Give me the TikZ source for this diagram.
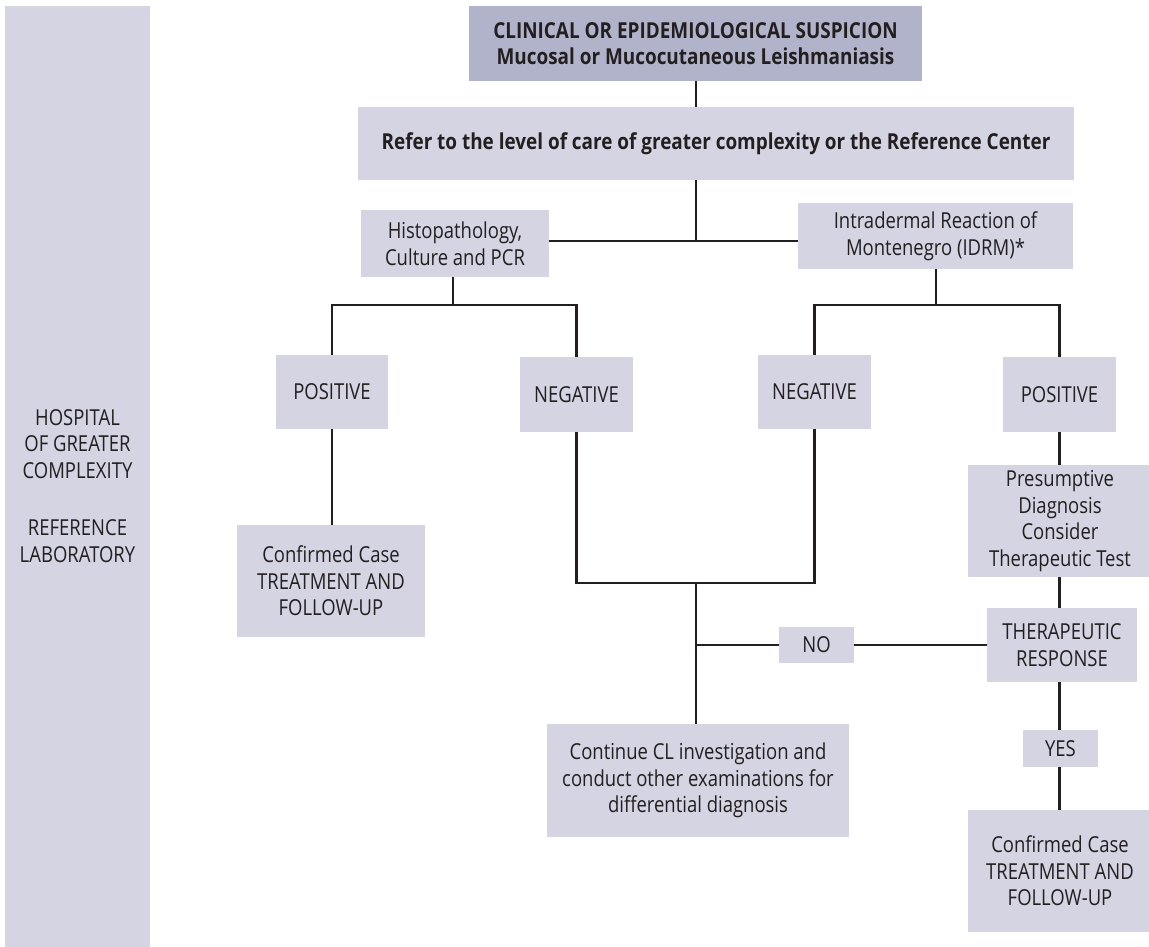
\documentclass[tikz,border=0pt]{standalone}
\usepackage{fontspec}
\setmainfont[FakeStretch=0.84, BoldFeatures={FakeStretch=0.86}]{Open Sans}
\definecolor{boxfill}{HTML}{D4D4E2}
\definecolor{headfill}{HTML}{B1B3CB}
\definecolor{ink}{HTML}{231F20}
\tikzset{
  flowbox/.style={fill=boxfill, inner sep=0pt, align=center, text=ink,
    font=\fontsize{22}{26.5}\selectfont},
  headbox/.style={flowbox, fill=headfill, font=\fontsize{22}{26.5}\selectfont\bfseries},
  link/.style={draw=ink, line width=2.3pt},
}
\newcommand{\bx}[6]{% name, x1, x2, y1, y2, style
  \node[#6, minimum width={#3-#2}, minimum height={#5-#4}]
    (#1) at ({(#2+#3)/2},{(#4+#5)/2})}
\begin{document}
\begin{tikzpicture}[x=1pt, y=-1pt]
\useasboundingbox (0,0) rectangle (1149,947);

% side band with the level of care
\bx{band}{5}{150}{6}{947}{flowbox}{};
\node[text=ink, align=center, font=\fontsize{22}{26.5}\selectfont] (bandlabel) at (77.5,486)
  {HOSPITAL\\OF GREATER\\COMPLEXITY\\[31pt]REFERENCE\\LABORATORY};

% boxes
\bx{top}{469}{922}{6}{81}{headbox}{CLINICAL OR EPIDEMIOLOGICAL SUSPICION\\Mucosal or Mucocutaneous Leishmaniasis};
\bx{refer}{358}{1074}{107}{180}{flowbox, font=\fontsize{22}{26.5}\selectfont\bfseries}{Refer to the level of care of greater complexity or the Reference Center};
\bx{histo}{361}{549}{210}{277}{flowbox}{Histopathology,\\Culture and PCR};
\bx{idrm}{798}{1073}{203}{269}{flowbox}{Intradermal Reaction of\\Montenegro (IDRM)*};
\bx{posL}{276}{388}{355}{429}{flowbox}{POSITIVE};
\bx{negL}{520}{633}{357}{432}{flowbox}{NEGATIVE};
\bx{negR}{758}{871}{355}{429}{flowbox}{NEGATIVE};
\bx{posR}{1003}{1116}{357}{432}{flowbox}{POSITIVE};
\bx{confL}{237}{425}{525}{637}{flowbox}{Confirmed Case\\TREATMENT AND\\FOLLOW-UP};
\bx{presum}{968}{1152}{465}{577}{flowbox}{Presumptive\\Diagnosis\\Consider\\Therapeutic Test};
\bx{resp}{987}{1137}{608}{682}{flowbox}{THERAPEUTIC\\RESPONSE};
\bx{no}{779}{854}{627}{663}{flowbox}{NO};
\bx{yes}{1023}{1098}{730}{767}{flowbox}{YES};
\bx{cont}{547}{849}{724}{837}{flowbox}{Continue CL investigation and\\conduct other examinations for\\differential diagnosis};
\bx{confR}{968}{1152}{810}{932}{flowbox}{Confirmed Case\\TREATMENT AND\\FOLLOW-UP};

% junction points
\coordinate (j1) at (696,241);
\coordinate (hb) at (453,305);
\coordinate (ib) at (936,305);
\coordinate (mb) at (696,583);
\coordinate (nj) at (696,645);

% connectors
\draw[link] (top.south -| j1) -- (refer.north -| j1);
\draw[link] (refer.south -| j1) -- (j1);
\draw[link] (histo.east |- j1) -- (idrm.west |- j1);
\draw[link] (hb |- histo.south) -- (hb);
\draw[link] (posL.north) |- (hb) -| (negL.north);
\draw[link] (ib |- idrm.south) -- (ib);
\draw[link] (negR.north) |- (ib) -| (posR.north);
\draw[link] (posL.south) -- (posL.south |- confL.north);
\draw[link] (negL.south) |- (mb) -| (negR.south);
\draw[link] (mb) -- (mb |- cont.north);
\draw[link] (nj) -- (no.west);
\draw[link] (no.east) -- (resp.west);
\draw[link] (posR.south) -- (posR.south |- presum.north);
\draw[link] (presum.south -| posR.south) -- (resp.north -| posR.south);
\draw[link] (resp.south -| posR.south) -- (yes.north -| posR.south);
\draw[link] (yes.south -| posR.south) -- (confR.north -| posR.south);
\end{tikzpicture}
\end{document}
